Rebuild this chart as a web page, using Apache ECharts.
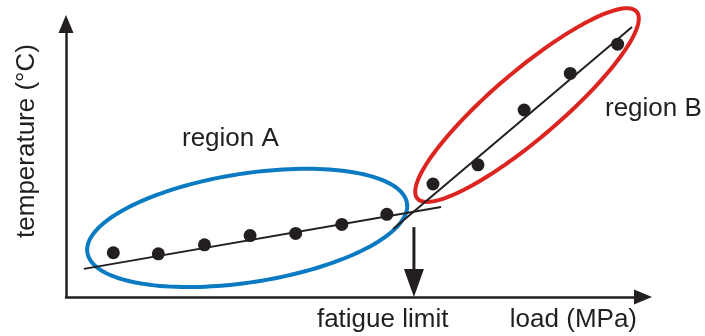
<!DOCTYPE html>
<html><head><meta charset="utf-8">
<script src="https://cdn.jsdelivr.net/npm/echarts@6/dist/echarts.min.js"></script>
<style>html,body{margin:0;padding:0;background:#fff}#c{width:705px;height:336px}</style>
</head><body><div id="c"></div>
<script>
// measured points (load, temperature) in arbitrary units
const regionALoad = [8.2, 16.0, 24.0, 31.9, 39.8, 47.8, 55.6];
const regionATemp = [16.2, 15.8, 19.1, 22.5, 23.3, 26.6, 30.3];
const regionBLoad = [63.6, 71.4, 79.4, 87.4, 95.6];
const regionBTemp = [41.4, 48.4, 68.5, 81.9, 92.6];
// fitted lines (endpoints)
const fitALoad = [3.1, 65.0];
const fitATemp = [10.3, 33.0];
const fitBLoad = [56.7, 98.1];
const fitBTemp = [24.9, 98.9];
// fatigue limit
const fatigueLimit = [60.3];
const arrowTopTemp = [25.6];
// region ellipses: centre (load, temp), conjugate half-axis vectors u and v
const ellipseA = [31.4, 25.3, 27.7, 9.0, 1.4, -19.7];
const ellipseB = [79.9, 70.3, 19.0, 34.2, 3.8, -9.4];
const labelTexts = ['region A', 'region B', 'fatigue limit', 'load (MPa)', 'temperature (°C)'];

const INK = '#231f20';
const FONT = '"Liberation Sans", Arial, sans-serif';

function zip(a, b) { return a.map((v, i) => [v, b[i]]); }

function ellipseItem(params, api) {
  const cx = api.value(0), cy = api.value(1), ux = api.value(2), uy = api.value(3), vx = api.value(4), vy = api.value(5);
  const pts = [];
  const N = 160;
  for (let i = 0; i < N; i++) {
    const t = i / N * 2 * Math.PI;
    pts.push(api.coord([cx + ux * Math.cos(t) + vx * Math.sin(t), cy + uy * Math.cos(t) + vy * Math.sin(t)]));
  }
  return { type: 'polygon', shape: { points: pts }, style: { fill: 'none', stroke: api.visual('color'), lineWidth: 4 } };
}

function arrowItem(params, api) {
  const top = api.coord([api.value(0), api.value(1)]);
  const bot = api.coord([api.value(0), 0]);
  const headLen = 28, headW = 10;
  return {
    type: 'group', children: [
      { type: 'line', shape: { x1: top[0], y1: top[1], x2: bot[0], y2: bot[1] - headLen + 2 }, style: { stroke: INK, lineWidth: 3 } },
      { type: 'polygon', shape: { points: [[bot[0] - headW, bot[1] - headLen], [bot[0] + headW, bot[1] - headLen], [bot[0], bot[1]]] }, style: { fill: INK } },
      { type: 'text', x: bot[0] - 97, y: bot[1] + 23, style: { text: labelTexts[2], font: '26px ' + FONT, fill: INK, align: 'left', verticalAlign: 'middle' } }
    ]
  };
}

const chart = echarts.init(document.getElementById('c'), null, { renderer: 'canvas' });
chart.setOption({
  animation: false,
  backgroundColor: '#fff',
  grid: { left: 66, right: 62, top: 24, bottom: 39, containLabel: false },
  xAxis: {
    type: 'value', min: 0, max: 100,
    splitLine: { show: false }, axisTick: { show: false }, axisLabel: { show: false },
    axisLine: { show: true, onZero: false, symbol: ['none', 'triangle'], symbolSize: [15, 18], lineStyle: { color: INK, width: 2.5 } },
    name: labelTexts[3], nameLocation: 'end', nameGap: -6,
    nameTextStyle: { fontSize: 26, fontFamily: FONT, color: INK, align: 'right', verticalAlign: 'top', padding: [10, 0, 0, 0] }
  },
  yAxis: {
    type: 'value', min: 0, max: 100,
    splitLine: { show: false }, axisTick: { show: false }, axisLabel: { show: false },
    axisLine: { show: true, onZero: false, symbol: ['none', 'triangle'], symbolSize: [15, 18], lineStyle: { color: INK, width: 2.5 } },
    name: labelTexts[4], nameLocation: 'middle', nameRotate: 90, nameGap: 26,
    nameTextStyle: { fontSize: 26, fontFamily: FONT, color: INK, padding: [0, 0, 0, 39] }
  },
  graphic: [
    { type: 'text', x: 182, y: 139, style: { text: labelTexts[0], font: '26px ' + FONT, fill: INK, align: 'left', verticalAlign: 'middle' } },
    { type: 'text', x: 605, y: 109, style: { text: labelTexts[1], font: '26px ' + FONT, fill: INK, align: 'left', verticalAlign: 'middle' } }
  ],
  series: [
    { type: 'custom', name: 'region A', renderItem: ellipseItem, data: [ellipseA], itemStyle: { color: '#0a7ac2' }, encode: { x: 0, y: 1 }, silent: true, z: 1 },
    { type: 'custom', name: 'region B', renderItem: ellipseItem, data: [ellipseB], itemStyle: { color: '#dc2420' }, encode: { x: 0, y: 1 }, silent: true, z: 1 },
    { type: 'line', data: zip(fitALoad, fitATemp), symbol: 'none', lineStyle: { color: INK, width: 2 }, silent: true, z: 2 },
    { type: 'line', data: zip(fitBLoad, fitBTemp), symbol: 'none', lineStyle: { color: INK, width: 2 }, silent: true, z: 2 },
    { type: 'scatter', data: zip(regionALoad, regionATemp), symbolSize: 13, itemStyle: { color: INK, opacity: 1 }, silent: true, z: 3 },
    { type: 'scatter', data: zip(regionBLoad, regionBTemp), symbolSize: 13, itemStyle: { color: INK, opacity: 1 }, silent: true, z: 3 },
    { type: 'custom', renderItem: arrowItem, data: zip(fatigueLimit, arrowTopTemp), encode: { x: 0, y: 1 }, silent: true, z: 4 }
  ]
});
</script>
</body></html>
